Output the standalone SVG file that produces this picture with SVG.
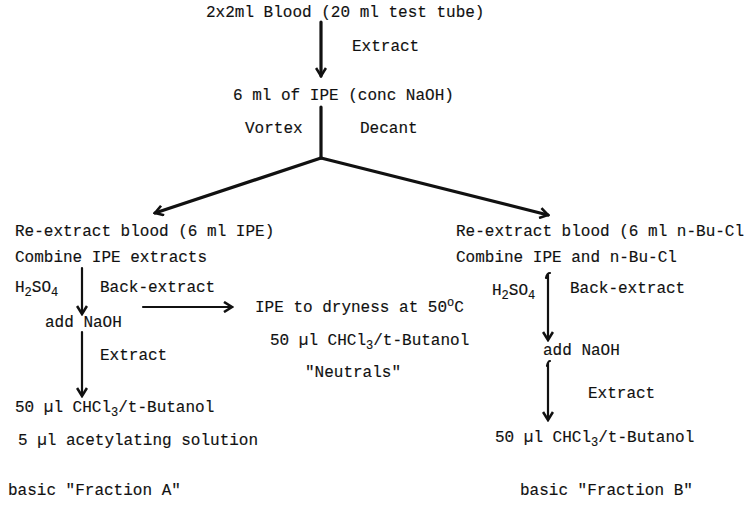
<svg xmlns="http://www.w3.org/2000/svg" width="745" height="527" viewBox="0 0 745 527">
<style>
text{font-family:"Liberation Mono","DejaVu Sans Mono",monospace;font-size:16px;fill:#111;stroke:#111;stroke-width:0.15}
.c{fill:none;stroke:#111;stroke-width:2.2;stroke-linecap:round}
.t{stroke-width:3.2}
.s{font-size:12px}
</style>
<defs>
<marker id="ah2" viewBox="0 0 12 12" refX="10" refY="6" markerWidth="12" markerHeight="12" orient="auto" markerUnits="userSpaceOnUse">
<path d="M2,1 L10,6 L2,11" fill="none" stroke="#111" stroke-width="2.6"/>
</marker>
</defs>
<rect width="745" height="527" fill="#fff"/>
<g id="connectors">
<line class="c t" x1="321" y1="22" x2="321" y2="76" marker-end="url(#ah2)"/>
<line class="c t" x1="321" y1="107" x2="321" y2="158"/>
<line class="c t" x1="321" y1="158" x2="155" y2="213" marker-end="url(#ah2)"/>
<line class="c t" x1="321" y1="158" x2="548" y2="215" marker-end="url(#ah2)"/>
<line class="c" x1="82" y1="268" x2="82" y2="314" marker-end="url(#ah2)"/>
<line class="c" x1="82" y1="332" x2="82" y2="396" marker-end="url(#ah2)"/>
<line class="c" x1="143" y1="307" x2="232" y2="307" marker-end="url(#ah2)"/>
<path class="c" d="M546,278 Q547,273 550,273 M548,275 L548,340" marker-end="url(#ah2)"/>
<path class="c" d="M547,366 Q548,361 550,361 M548,363 L548,420" marker-end="url(#ah2)"/>
</g>
<g id="n_blood"><text x="206" y="17">2x2ml Blood (20 ml test tube)</text></g>
<g id="l_extract1"><text x="352" y="51">Extract</text></g>
<g id="n_ipe"><text x="233" y="100">6 ml of IPE (conc NaOH)</text></g>
<g id="l_vortex"><text x="245" y="133">Vortex</text></g>
<g id="l_decant"><text x="360" y="133">Decant</text></g>
<g id="n_left1"><text x="15" y="236">Re-extract blood (6 ml IPE)</text><text x="15" y="262">Combine IPE extracts</text></g>
<g id="n_right1"><text x="456" y="236">Re-extract blood (6 ml n-Bu-Cl</text><text x="456" y="262">Combine IPE and n-Bu-Cl</text></g>
<g id="l_left_h2so4"><text x="15" y="292">H<tspan class="s" dy="4">2</tspan><tspan dy="-4">SO</tspan><tspan class="s" dy="4">4</tspan></text></g>
<g id="l_left_back"><text x="100" y="292">Back-extract</text></g>
<g id="n_left_naoh"><text x="45" y="327">add NaOH</text></g>
<g id="n_neutrals"><text x="255" y="312">IPE to dryness at 50<tspan class="s" dy="-6">o</tspan><tspan dy="6">C</tspan></text><text x="270" y="345">50 µl CHCl<tspan class="s" dy="4">3</tspan><tspan dy="-4">/t-Butanol</tspan></text><text x="305" y="377">"Neutrals"</text></g>
<g id="l_left_extract"><text x="100" y="360">Extract</text></g>
<g id="n_fracA"><text x="15" y="412">50 µl CHCl<tspan class="s" dy="4">3</tspan><tspan dy="-4">/t-Butanol</tspan></text><text x="18" y="445">5 µl acetylating solution</text><text x="8" y="495">basic "Fraction A"</text></g>
<g id="l_right_h2so4"><text x="492" y="295">H<tspan class="s" dy="4">2</tspan><tspan dy="-4">SO</tspan><tspan class="s" dy="4">4</tspan></text></g>
<g id="l_right_back"><text x="570" y="293">Back-extract</text></g>
<g id="n_right_naoh"><text x="543" y="355">add NaOH</text></g>
<g id="l_right_extract"><text x="588" y="398">Extract</text></g>
<g id="n_fracB"><text x="495" y="442">50 µl CHCl<tspan class="s" dy="4">3</tspan><tspan dy="-4">/t-Butanol</tspan></text><text x="520" y="495">basic "Fraction B"</text></g>
</svg>
